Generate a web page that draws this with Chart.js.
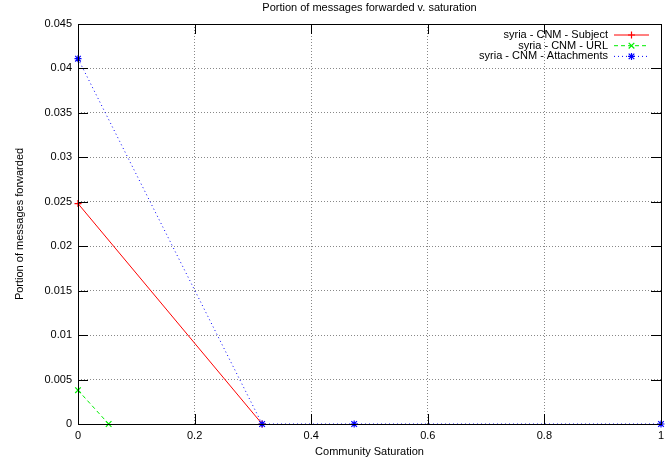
<!DOCTYPE html>
<html>
<head>
<meta charset="utf-8">
<script src="https://cdn.jsdelivr.net/npm/chart.js@4"></script>
<style>
    html, body { margin: 0; padding: 0; background: #fff; }
    #wrap { width: 672px; height: 463px; }
</style>
</head>
<body>
<div id="wrap"><canvas id="chart" width="672" height="463"></canvas></div>
<script>
// Data (x = community saturation)
const subjectX = [0, 0.3158];
const subjectY = [0.0248, 0];
const urlX = [0, 0.0526];
const urlY = [0.0038, 0];
const attachX = [0, 0.3158, 0.4737, 1];
const attachY = [0.0411, 0, 0, 0];

const xTicks = [0, 0.2, 0.4, 0.6, 0.8, 1];
const yTicks = [0, 0.005, 0.01, 0.015, 0.02, 0.025, 0.03, 0.035, 0.04, 0.045];

const FONT = '"Liberation Sans", Arial, Helvetica, sans-serif';

function toPoints(xs, ys) {
    return xs.map((x, i) => ({ x: x, y: ys[i] }));
}

function fmt(v) {
    return String(+v.toFixed(4));
}

// Gnuplot style marker shapes
function drawMarker(ctx, style, color, x, y, r) {
    ctx.save();
    ctx.strokeStyle = color;
    ctx.lineWidth = 1.2;
    ctx.setLineDash([]);
    ctx.beginPath();
    if (style === 'cross' || style === 'star') {
        ctx.moveTo(x - r, y); ctx.lineTo(x + r, y);
        ctx.moveTo(x, y - r); ctx.lineTo(x, y + r);
    }
    if (style === 'crossRot' || style === 'star') {
        const d = r * 0.8;
        ctx.moveTo(x - d, y - d); ctx.lineTo(x + d, y + d);
        ctx.moveTo(x - d, y + d); ctx.lineTo(x + d, y - d);
    }
    ctx.stroke();
    ctx.restore();
}

// Border, inward tick marks, title and legend
const gnuplotFrame = {
    id: 'gnuplotFrame',
    afterDatasetsDraw(chart) {
        const ctx = chart.ctx;
        const a = chart.chartArea;
        const xs = chart.scales.x;
        const ys = chart.scales.y;
        const tl = 10;

        ctx.save();
        ctx.strokeStyle = '#000';
        ctx.lineWidth = 1;
        ctx.setLineDash([]);
        ctx.strokeRect(Math.round(a.left) + 0.5, Math.round(a.top) + 0.5,
            Math.round(a.right - a.left), Math.round(a.bottom - a.top));

        ctx.beginPath();
        xTicks.forEach(v => {
            const px = Math.round(xs.getPixelForValue(v)) + 0.5;
            ctx.moveTo(px, a.bottom); ctx.lineTo(px, a.bottom - tl);
            ctx.moveTo(px, a.top); ctx.lineTo(px, a.top + tl);
        });
        yTicks.forEach(v => {
            const py = Math.round(ys.getPixelForValue(v)) + 0.5;
            ctx.moveTo(a.left, py); ctx.lineTo(a.left + tl, py);
            ctx.moveTo(a.right, py); ctx.lineTo(a.right - tl, py);
        });
        ctx.stroke();

        // Title
        ctx.fillStyle = '#000';
        ctx.font = '11px ' + FONT;
        ctx.textAlign = 'center';
        ctx.textBaseline = 'middle';
        ctx.fillText('Portion of messages forwarded v. saturation', (a.left + a.right) / 2, 8);

        // Legend (text right aligned, sample to the right)
        chart.data.datasets.forEach((ds, i) => {
            const y = a.top + 11 + i * 10.7;
            ctx.fillStyle = '#000';
            ctx.textAlign = 'right';
            ctx.fillText(ds.label, a.right - 53, y);
            ctx.strokeStyle = ds.borderColor;
            ctx.lineWidth = 1;
            ctx.setLineDash(ds.borderDash || []);
            ctx.beginPath();
            ctx.moveTo(a.right - 47, y);
            ctx.lineTo(a.right - 12, y);
            ctx.stroke();
            ctx.setLineDash([]);
            drawMarker(ctx, ds.pointStyle, ds.borderColor, a.right - 29.5, y, 3.5);
        });
        ctx.restore();
    }
};

// Markers drawn by hand so they look like gnuplot glyphs
const gnuplotMarkers = {
    id: 'gnuplotMarkers',
    afterDatasetsDraw(chart) {
        const ctx = chart.ctx;
        chart.data.datasets.forEach((ds, i) => {
            const meta = chart.getDatasetMeta(i);
            meta.data.forEach(pt => {
                drawMarker(ctx, ds.pointStyle, ds.borderColor, pt.x, pt.y, 3.5);
            });
        });
    }
};

new Chart(document.getElementById('chart'), {
    type: 'line',
    data: {
        datasets: [
            {
                label: 'syria - CNM - Subject',
                data: toPoints(subjectX, subjectY),
                borderColor: '#ff0000',
                borderWidth: 1,
                pointStyle: 'cross',
                pointRadius: 0
            },
            {
                label: 'syria - CNM - URL',
                data: toPoints(urlX, urlY),
                borderColor: '#00ee00',
                borderWidth: 1,
                borderDash: [4, 3],
                pointStyle: 'crossRot',
                pointRadius: 0
            },
            {
                label: 'syria - CNM - Attachments',
                data: toPoints(attachX, attachY),
                borderColor: '#0000ff',
                borderWidth: 1,
                borderDash: [1, 3],
                pointStyle: 'star',
                pointRadius: 0
            }
        ]
    },
    options: {
        responsive: false,
        animation: false,
        layout: { padding: { top: 24, right: 11, left: 0, bottom: 0 } },
        plugins: {
            legend: { display: false },
            title: { display: false },
            tooltip: { enabled: false }
        },
        elements: { line: { tension: 0 } },
        scales: {
            x: {
                type: 'linear',
                min: 0,
                max: 1,
                afterBuildTicks: s => { s.ticks = xTicks.map(v => ({ value: v })); },
                afterFit: s => { s.height = 39; },
                ticks: {
                    color: '#000',
                    padding: 5,
                    maxRotation: 0,
                    font: { family: FONT, size: 11 },
                    callback: v => fmt(v)
                },
                grid: { color: '#888', borderDash: [1, 2], drawTicks: false },
                border: { display: false, dash: [1, 2] },
                title: {
                    display: true,
                    text: 'Community Saturation',
                    color: '#000',
                    font: { family: FONT, size: 11 },
                    padding: { top: 0, bottom: 4 }
                }
            },
            y: {
                type: 'linear',
                min: 0,
                max: 0.045,
                afterBuildTicks: s => { s.ticks = yTicks.map(v => ({ value: v })); },
                afterFit: s => { s.width = 78; },
                ticks: {
                    color: '#000',
                    padding: 6,
                    font: { family: FONT, size: 11 },
                    callback: v => fmt(v)
                },
                grid: { color: '#888', borderDash: [1, 2], drawTicks: false },
                border: { display: false, dash: [1, 2] },
                title: {
                    display: true,
                    text: 'Portion of messages forwarded',
                    color: '#000',
                    font: { family: FONT, size: 11 },
                    padding: { top: 13, bottom: 0 }
                }
            }
        }
    },
    plugins: [gnuplotMarkers, gnuplotFrame]
});
</script>
</body>
</html>
